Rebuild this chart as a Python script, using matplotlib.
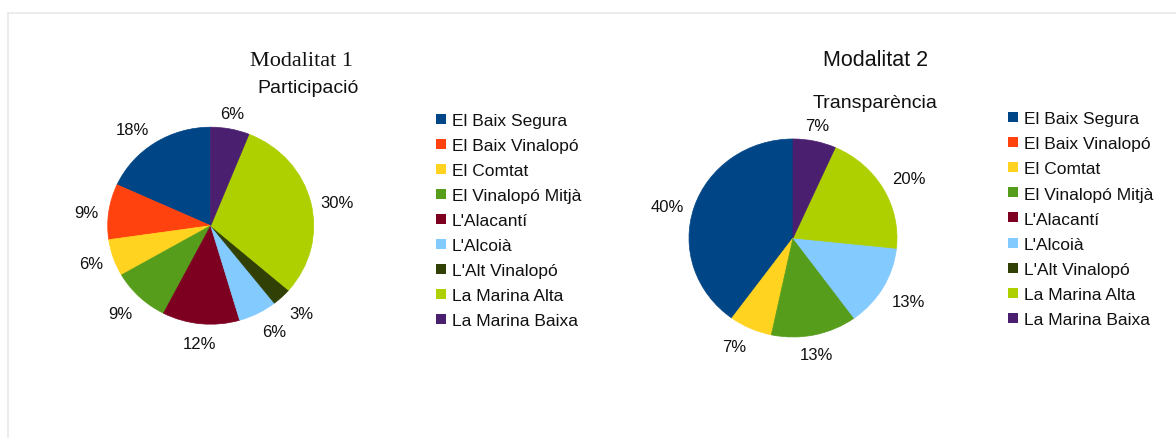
import numpy as np
import matplotlib
matplotlib.use("Agg")
import matplotlib.pyplot as plt
from matplotlib.patches import Rectangle
from matplotlib.lines import Line2D
from matplotlib.transforms import ScaledTranslation

# ---------------- data ----------------
categories = ["El Baix Segura", "El Baix Vinalopó", "El Comtat", "El Vinalopó Mitjà",
              "L'Alacantí", "L'Alcoià", "L'Alt Vinalopó", "La Marina Alta", "La Marina Baixa"]
colors = ["#004586", "#ff420e", "#ffd320", "#579d1c", "#7e0021",
          "#83caff", "#314004", "#aecf00", "#4b1f6f"]
# counts that give the shown percentages (18,9,6,9,12,6,3,30,6 %)
modalitat1 = [6, 3, 2, 3, 4, 2, 1, 10, 2]
# counts that give the shown percentages (40,0,7,13,0,13,0,20,7 %)
modalitat2 = [6, 0, 1, 2, 0, 2, 0, 3, 1]

titles = ["Modalitat 1", "Modalitat 2"]
subtitles = ["Participació", "Transparència"]

W, H = 1176, 439
fig = plt.figure(figsize=(W / 100, H / 100), dpi=100)
fig.patch.set_facecolor("white")
SANS = ["Liberation Sans", "DejaVu Sans"]
SERIF = ["Liberation Serif", "DejaVu Serif"]


def fx(px):
    return px / W


def fy(py):
    return 1 - py / H


# light frame
fig.add_artist(Line2D([fx(8), 1.0], [fy(13.5), fy(13.5)], color="#e9e9e9", lw=1.2))
fig.add_artist(Line2D([fx(8), fx(8)], [fy(13.5), 0.0], color="#e9e9e9", lw=1.2))


def draw_pie(values, cx, cy, rx, ry):
    ax = fig.add_axes([fx(cx - rx), fy(cy + ry), (2 * rx) / W, (2 * ry) / H])
    wedges, _ = ax.pie(values, colors=colors, startangle=90, counterclock=True,
                       wedgeprops=dict(linewidth=0))
    total = float(sum(values))
    shift = ax.transData + ScaledTranslation(0, -2 / 100, fig.dpi_scale_trans)
    for w, v in zip(wedges, values):
        if v > 0:
            w.set_edgecolor(w.get_facecolor())
            w.set_linewidth(0.5)
            theta = np.deg2rad((w.theta1 + w.theta2) / 2)
            c, s = np.cos(theta), np.sin(theta)
            r = 1.1
            ha = "left" if c > 0.3 else ("right" if c < -0.3 else "center")
            va = "bottom" if s > 0.35 else ("top" if s < -0.35 else "center")
            ax.text(r * c, r * s, "%.0f%%" % (v / total * 100), ha=ha, va=va,
                    fontsize=12, family=SANS, color="#111111", clip_on=False,
                    transform=shift)
    ax.set_aspect("auto")
    ax.set_xlim(-1, 1)
    ax.set_ylim(-1, 1)
    ax.axis("off")
    return ax


def draw_legend(x_marker, x_text, y0, dy):
    for i, (name, col) in enumerate(zip(categories, colors)):
        yc = y0 + i * dy
        fig.add_artist(Rectangle((fx(x_marker), fy(yc + 5)), 10 / W, 10 / H,
                                 transform=fig.transFigure, facecolor=col,
                                 edgecolor="none"))
        fig.text(fx(x_text), fy(yc + 6.3), name, ha="left", va="baseline",
                 fontsize=12.5, family=SANS, color="#111111")


# ---- Modalitat 1 ----
draw_pie(modalitat1, 210.7, 226.7, 103, 98.5)
fig.text(fx(302), fy(66), titles[0], ha="center", va="baseline", fontsize=16,
         family=SERIF, color="#111111")
fig.text(fx(308), fy(93), subtitles[0], ha="center", va="baseline", fontsize=14,
         family=SANS, color="#111111")
draw_legend(435.7, 451.7, 120, 25)

# ---- Modalitat 2 ----
draw_pie(modalitat2, 793, 239, 104, 99)
fig.text(fx(876), fy(66), titles[1], ha="center", va="baseline", fontsize=15.5,
         family=SANS, color="#111111")
fig.text(fx(875), fy(108), subtitles[1], ha="center", va="baseline", fontsize=14,
         family=SANS, color="#111111")
draw_legend(1007.5, 1023.5, 118, 25.1)

fig.savefig("out.png", dpi=100, facecolor="white")
